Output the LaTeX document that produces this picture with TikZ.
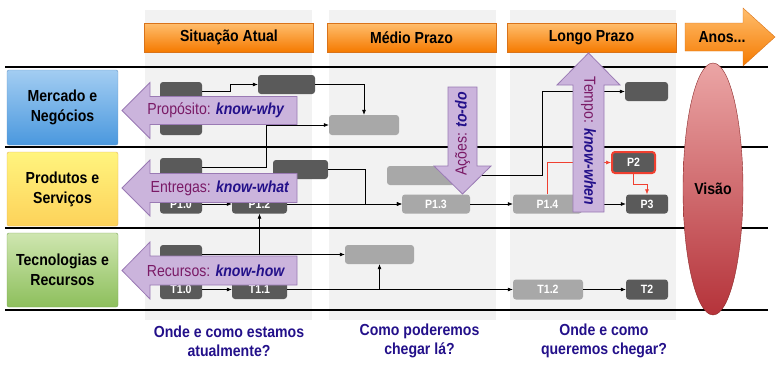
\documentclass[tikz,border=0pt]{standalone}
\usepackage{fontspec}
\setmainfont{Liberation Sans}[FakeStretch=0.88]
\usepackage{tikz}
\usetikzlibrary{arrows.meta}
\usetikzlibrary{shapes.geometric}
\usetikzlibrary{calc}
\usepackage{xcolor}

\definecolor{colbg}{HTML}{F2F2F2}
\definecolor{boxdark}{HTML}{5A5A5A}
\definecolor{boxlight}{HTML}{A8A8A8}
\definecolor{orangetop}{HTML}{FFBE6E}
\definecolor{orangebot}{HTML}{F57A00}
\definecolor{orangeline}{HTML}{D9731A}
\definecolor{bluetop}{HTML}{A3CDF2}
\definecolor{bluebot}{HTML}{4A98DE}
\definecolor{blueline}{HTML}{6A96C4}
\definecolor{yellowtop}{HTML}{FFF47E}
\definecolor{yellowbot}{HTML}{FDD25A}
\definecolor{yellowline}{HTML}{E4B45E}
\definecolor{greentop}{HTML}{CFE6B0}
\definecolor{greenbot}{HTML}{8DBF5C}
\definecolor{greenline}{HTML}{7DA65A}
\definecolor{lilac}{HTML}{CBB4DC}
\definecolor{lilacline}{HTML}{9A7AB4}
\definecolor{plum}{HTML}{7A1A66}
\definecolor{deepblue}{HTML}{23108A}
\definecolor{visaotop}{HTML}{EBA5A5}
\definecolor{visaobot}{HTML}{B5333A}
\definecolor{visaoline}{HTML}{8C2A2A}
\definecolor{redlink}{HTML}{F04030}

\tikzset{
  header/.style={draw=orangeline, top color=orangetop, bottom color=orangebot,
    minimum width=169, minimum height=29, inner sep=0,
    font=\fontsize{16}{19}\selectfont\bfseries},
  rowlabel/.style={rounded corners=2, minimum width=111, align=center, inner sep=0,
    font=\fontsize{16}{20}\selectfont\bfseries},
  darkbox/.style={fill=boxdark, rounded corners=3, minimum height=19, inner sep=0,
    text=white, font=\fontsize{12}{14}\selectfont\bfseries},
  lightbox/.style={darkbox, fill=boxlight},
  conn/.style={-{Latex[length=5pt,width=4pt]}, line width=0.6pt},
  redconn/.style={conn, draw=redlink},
  lilacarrow/.style={fill=lilac, draw=lilacline, line width=0.8pt},
  know/.style={text=plum, font=\fontsize{16}{19}\selectfont},
  question/.style={align=center, text=deepblue, font=\fontsize{16}{19}\selectfont\bfseries}
}
\newcommand{\knowpart}[1]{\textcolor{deepblue}{\textbf{\textit{#1}}}}

\begin{document}
\begin{tikzpicture}[x=1pt, y=-1pt]
    \useasboundingbox (0,0) rectangle (777,368);

    % 1. Light columns behind the three stages
    \fill[colbg] (145,10) rectangle (312,320);
    \fill[colbg] (329,10) rectangle (496,320);
    \fill[colbg] (510,10) rectangle (676,320);

    % 2. Lane separators
    \foreach \y in {67, 147, 228, 310} {
        \draw[line width=1.6pt] (5,\y) -- (768,\y);
    }

    % 3. Stage headers
    \node[header] (atual) at (229,37.5) {Situação Atual};
    \node[header] (medio) at (411.5,37.5) {Médio Prazo};
    \node[header] (longo) at (591.5,37.5) {Longo Prazo};
    \shadedraw[draw=orangeline, top color=orangetop, bottom color=orangebot]
        (685,23) -- (743,23) -- (743,8) -- (775,37) -- (743,66) -- (743,51) -- (685,51) -- cycle;
    \node[font=\fontsize{16}{19}\selectfont\bfseries] (anos) at (722,37) {Anos...};

    % 4. Lane labels
    \node[rowlabel, draw=blueline, top color=bluetop, bottom color=bluebot, minimum height=75]
        (mercado) at (62.5,107.5) {Mercado e\\Negócios};
    \node[rowlabel, draw=yellowline, top color=yellowtop, bottom color=yellowbot, minimum height=74]
        (produtos) at (62.5,189) {Produtos e\\Serviços};
    \node[rowlabel, draw=greenline, top color=greentop, bottom color=greenbot, minimum height=74]
        (tecnologias) at (62.5,270) {Tecnologias e\\Recursos};

    % 5. Boxes of the market lane
    \node[darkbox, minimum width=42] (m1) at (181,91.5) {};
    \node[darkbox, minimum width=42] (m2) at (181,125.5) {};
    \node[darkbox, minimum width=57] (m3) at (286.5,84.5) {};
    \node[lightbox, minimum width=70, minimum height=20] (m4) at (364,125) {};
    \node[darkbox, minimum width=43] (m5) at (646.5,91.5) {};

    % 6. Boxes of the product lane
    \node[darkbox, minimum width=42] (s1) at (181,167.5) {};
    \node[darkbox, minimum width=42] (p10) at (181,204) {P1.0};
    \node[darkbox, minimum width=55] (p12) at (259.5,204) {P1.2};
    \node[darkbox, minimum width=55] (s2) at (300.5,169.5) {};
    \node[lightbox, minimum width=73] (s3) at (423.5,175.5) {};
    \node[lightbox, minimum width=68] (p13) at (436,204) {P1.3};
    \node[lightbox, minimum width=69] (p14) at (547.5,204) {P1.4};
    \node[darkbox, minimum width=43, minimum height=21, draw=redlink, line width=2pt] (p2) at (633.5,162.5) {P2};
    \node[darkbox, minimum width=42] (p3) at (647,204) {P3};

    % 7. Boxes of the technology lane
    \node[darkbox, minimum width=42] (r1) at (181,254.5) {};
    \node[darkbox, minimum width=42] (t10) at (181,289.5) {T1.0};
    \node[darkbox, minimum width=55] (t11) at (259.5,289.5) {T1.1};
    \node[lightbox, minimum width=69] (r2) at (379.5,254.5) {};
    \node[lightbox, minimum width=70, minimum height=20] (t12) at (548,289.5) {T1.2};
    \node[darkbox, minimum width=42, minimum height=20] (t2) at (647,289.5) {T2};

    % 8. Connectors
    \draw[conn] (m1.east) -- ++(28,0) |- (m3.west);
    \draw[conn] (m3.east) -| (m4.north);
    \draw[conn] (s1.east) -- ++(64,0) |- (m4.west);
    \draw[conn] (p10) -- (p12);
    \draw[conn] (s2.east) -- ++(37,0) |- (p13.west);
    \draw[conn] (p12) -- (p13);
    \draw[conn] (s3.east) -- ++(82,0) |- (m5.west);
    \draw[conn] (p13) -- (p14);
    \draw[conn] (p14) -- (p3);
    \draw[redconn] (p14.north) |- (p2.west);
    \draw[redconn] (p2.south) -- ++(0,10) -| (p3.north);
    \draw[conn] (r1) -- (r2);
    \draw[conn] (r1.east -| p12.south) -- (p12.south);
    \draw[conn] (t10) -- (t11);
    \draw[conn] (t11) -- (t12);
    \draw[conn] (t11.east -| r2.south) -- (r2.south);
    \draw[conn] (t12) -- (t2);

    % 9. Lilac arrows with the know-* labels
    \draw[lilacarrow] (297,96.5) -- (150,96.5) -- (150,82.5) -- (122,110.5) -- (150,138.5) -- (150,124.5) -- (297,124.5) -- cycle;
    \node[know] (why) at (216,110.5) {Propósito: \knowpart{know-why}};
    \draw[lilacarrow] (297,173.5) -- (150,173.5) -- (150,160) -- (122,188) -- (150,216) -- (150,202.5) -- (297,202.5) -- cycle;
    \node[know] (what) at (220,188) {Entregas: \knowpart{know-what}};
    \draw[lilacarrow] (297,256) -- (150,256) -- (150,242) -- (122,270.5) -- (150,299) -- (150,285) -- (297,285) -- cycle;
    \node[know] (how) at (216,270.5) {Recursos: \knowpart{know-how}};
    \draw[lilacarrow] (448,87) -- (477,87) -- (477,166) -- (491,166) -- (462.5,194) -- (434,166) -- (448,166) -- cycle;
    \node[know, rotate=90] (todo) at (462.5,134) {Ações: \knowpart{to-do}};
    \draw[lilacarrow] (573,212) -- (604,212) -- (604,85) -- (620,85) -- (588.5,53) -- (557,85) -- (573,85) -- cycle;
    \node[know, rotate=-90] (when) at (588.5,141) {Tempo: \knowpart{know-when}};

    % 10. Vision
    \node[ellipse, draw=visaoline, top color=visaotop, bottom color=visaobot,
        minimum width=60, minimum height=252, inner sep=0,
        font=\fontsize{16}{19}\selectfont\bfseries] (visao) at (713,189) {Visão};

    % 11. Questions below the stages
    \node[question] (q1) at (229,341) {Onde e como estamos\\atualmente?};
    \node[question] (q2) at (419.5,341) {Como poderemos\\chegar lá?};
    \node[question] (q3) at (604,341) {Onde e como\\queremos chegar?};

\end{tikzpicture}
\end{document}
